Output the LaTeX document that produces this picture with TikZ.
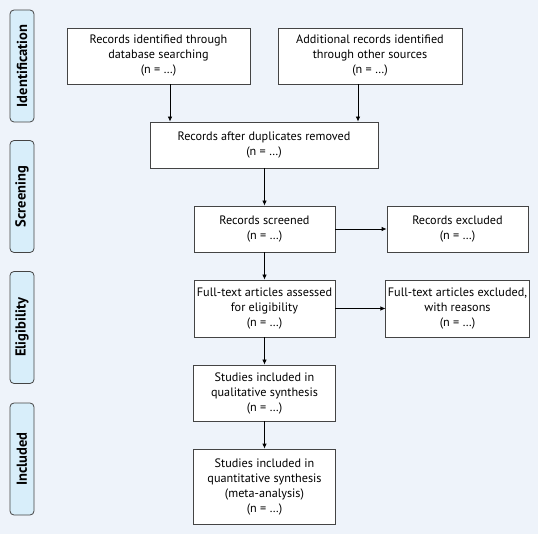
\documentclass[tikz,border=0pt]{standalone}
\usepackage{fontspec}
\setmainfont{PT Sans}
\usetikzlibrary{arrows.meta, positioning, calc}

\definecolor{bgcol}{HTML}{EEF3FA}
\definecolor{tabcol}{HTML}{D8EEFA}
\definecolor{edgecol}{HTML}{444444}

\tikzset{
    flowbox/.style={draw=edgecol, fill=white, line width=0.8pt, align=center,
        font=\fontsize{12.2}{15}\selectfont, inner sep=2pt},
    phasetab/.style={draw=edgecol, fill=tabcol, line width=0.8pt, rounded corners=4pt,
        minimum width=24pt, minimum height=112pt},
    phaselabel/.style={rotate=90, font=\fontsize{14.5}{16}\selectfont\bfseries},
    arr/.style={-{Latex[length=5pt,width=4.5pt]}, line width=0.8pt, black}
}

\begin{document}
\begin{tikzpicture}[x=1pt, y=-1pt]
    % Background
    \fill[bgcol] (0,0) rectangle (538,534);
    \useasboundingbox (0,0) rectangle (538,534);

    % Phase tabs
    \foreach \yc/\name/\txt in {66/tabid/Identification, 196.5/tabscr/Screening,
                                327.5/tabelig/Eligibility, 459/tabinc/Included} {
        \node[phasetab] (\name) at (22,\yc) {};
        \node[phaselabel] at (\name.center) {\txt};
    }

    % Identification
    \node[flowbox, minimum width=183pt, minimum height=56pt] (dbsearch) at (158.5,56)
        {Records identified through\\database searching\\(n = \dots)};
    \node[flowbox, minimum width=184pt, minimum height=56pt] (othersrc) at (370,56)
        {Additional records identified\\through other sources\\(n = \dots)};

    % Screening
    \node[flowbox, minimum width=228pt, minimum height=46pt] (dedup) at (264,145)
        {Records after duplicates removed\\(n = \dots)};
    \node[flowbox, minimum width=141pt, minimum height=46pt] (screened) at (264.5,229)
        {Records screened\\(n = \dots)};
    \node[flowbox, minimum width=141pt, minimum height=46pt] (excluded) at (457.5,229)
        {Records excluded\\(n = \dots)};

    % Eligibility
    \node[flowbox, minimum width=141pt, minimum height=57pt] (fulltext) at (264.5,308.5)
        {Full-text articles assessed\\for eligibility\\(n = \dots)};
    \node[flowbox, minimum width=141pt, minimum height=57pt] (ftexcl) at (457.5,308.5)
        {Full-text articles excluded,\\with reasons\\(n = \dots)};

    % Included
    \node[flowbox, minimum width=142pt, minimum height=56pt] (qualit) at (264.5,393)
        {Studies included in\\qualitative synthesis\\(n = \dots)};
    \node[flowbox, minimum width=142pt, minimum height=75pt] (quantit) at (264.5,486.5)
        {Studies included in\\quantitative synthesis\\(meta-analysis)\\(n = \dots)};

    % Arrows
    \draw[arr] ([xshift=11.5pt]dbsearch.south) -- ([xshift=11.5pt]dbsearch.south |- dedup.north);
    \draw[arr] ([xshift=-12pt]othersrc.south) -- ([xshift=-12pt]othersrc.south |- dedup.north);
    \draw[arr] (dedup.south -| screened.north) -- (screened.north);
    \draw[arr] (screened.east) -- (excluded.west);
    \draw[arr] (screened.south) -- (fulltext.north);
    \draw[arr] (fulltext.east) -- (ftexcl.west);
    \draw[arr] (fulltext.south) -- (qualit.north);
    \draw[arr] (qualit.south) -- (quantit.north);
\end{tikzpicture}
\end{document}
